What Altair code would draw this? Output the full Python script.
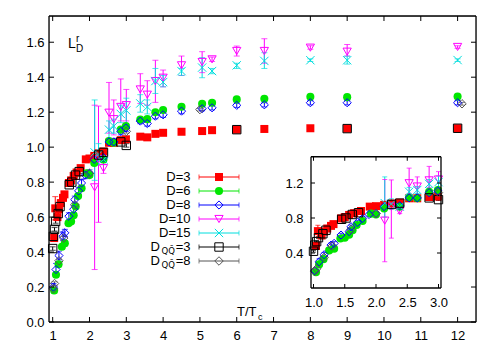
import altair as alt
import pandas as pd

FONT = "Liberation Sans"

# ---------------- series definitions ----------------
names = ["D=3", "D=6", "D=8", "D=10", "D=15", "Dqq3", "Dqq8"]
colors = ["#ff0000", "#00e600", "#0000ff", "#ff00ff", "#00dede", "#000000", "#555555"]
shapes = ["square", "circle", "diamond", "triangle-down",
          "M-1,-1L1,1M-1,1L1,-1", "square", "diamond"]
sizes = [64, 72, 56, 64, 42, 60, 30]
filled_series = ["D=3", "D=6"]

# D=3
t_d3 = [1.04, 1.07, 1.13, 1.17, 1.22, 1.28, 1.32, 1.44, 1.50, 1.57, 1.65, 1.76, 1.90,
        2.00, 2.13, 2.25, 2.38, 2.53, 2.66, 2.85, 2.99, 3.38, 3.57, 3.79, 4.00, 4.50,
        5.06, 5.33, 6.00, 6.75, 8.00, 9.00, 12.0]
l_d3 = [0.48, 0.65, 0.60, 0.645, 0.68, 0.71, 0.73, 0.795, 0.81, 0.835, 0.855, 0.88, 0.93,
        0.935, 0.95, 0.965, 0.975, 1.025, 1.025, 1.04, 1.045, 1.06, 1.056, 1.076, 1.082, 1.088,
        1.092, 1.097, 1.100, 1.104, 1.108, 1.106, 1.108]
e_d3 = [0.012, 0.067, 0.015, 0.012, 0.012, 0.01, 0.01, 0.01, 0.01, 0.01, 0.01, 0.01, 0.01,
        0.01, 0.01, 0.01, 0.01, 0.01, 0.01, 0.01, 0.01, 0.006, 0.006, 0.006, 0.006, 0.005,
        0.005, 0.005, 0.005, 0.005, 0.004, 0.004, 0.004]

# D=6
t_d6 = [1.04, 1.09, 1.16, 1.25, 1.33, 1.43, 1.50, 1.57, 1.625, 1.69, 1.785, 1.92, 2.00,
        2.13, 2.38, 2.53, 2.66, 2.85, 2.99, 3.38, 3.57, 3.79, 4.00, 4.50, 5.06, 5.33,
        6.00, 6.75, 8.00, 9.00, 12.0]
l_d6 = [0.18, 0.27, 0.33, 0.43, 0.45, 0.565, 0.575, 0.61, 0.66, 0.72, 0.765, 0.85, 0.84,
        0.91, 0.93, 1.035, 1.025, 1.10, 1.12, 1.158, 1.16, 1.20, 1.212, 1.231, 1.248, 1.254,
        1.273, 1.277, 1.288, 1.286, 1.29]
e_d6 = [0.015, 0.015, 0.015, 0.015, 0.015, 0.012, 0.012, 0.012, 0.012, 0.012, 0.012, 0.012,
        0.012, 0.012, 0.012, 0.01, 0.01, 0.01, 0.01, 0.008, 0.008, 0.008, 0.008, 0.008,
        0.008, 0.008, 0.006, 0.006, 0.006, 0.006, 0.006]

# D=8
t_d8 = [1.02, 1.09, 1.17, 1.28, 1.33, 1.44, 1.57, 1.60, 1.705, 1.785, 1.89, 2.00, 2.13,
        2.38, 2.53, 2.66, 2.85, 2.99, 3.38, 3.57, 3.79, 4.00, 4.50, 5.06, 5.33, 6.00,
        6.75, 8.00, 9.00, 12.0]
l_d8 = [0.20, 0.30, 0.38, 0.49, 0.51, 0.605, 0.645, 0.70, 0.75, 0.795, 0.84, 0.85, 0.93,
        0.94, 1.03, 1.03, 1.09, 1.11, 1.149, 1.135, 1.177, 1.185, 1.206, 1.22, 1.225, 1.239,
        1.242, 1.254, 1.254, 1.254]
e_d8 = [0.02, 0.035, 0.025, 0.025, 0.02, 0.02, 0.02, 0.02, 0.02, 0.02, 0.02, 0.02, 0.02,
        0.02, 0.02, 0.02, 0.02, 0.02, 0.015, 0.015, 0.015, 0.015, 0.015, 0.012, 0.012, 0.012,
        0.012, 0.012, 0.012, 0.012]

# D=10
t_d10 = [2.14, 2.245, 2.38, 2.53, 2.66, 2.85, 3.00, 3.38, 3.57, 3.79, 4.00, 4.50, 5.06,
         5.33, 6.00, 6.75, 8.00, 9.00, 12.0]
l_d10 = [0.77, 0.93, 0.88, 1.197, 1.16, 1.23, 1.24, 1.33, 1.30, 1.378, 1.397, 1.468, 1.487,
         1.502, 1.55, 1.55, 1.569, 1.546, 1.573]
lo_d10 = [0.30, 0.57, 0.85, 1.08, 1.07, 1.15, 1.15, 1.25, 1.24, 1.256, 1.345, 1.41, 1.426,
          1.49, 1.521, 1.48, 1.56, 1.521, 1.565]
hi_d10 = [1.24, 1.235, 0.91, 1.37, 1.27, 1.39, 1.33, 1.42, 1.38, 1.497, 1.441, 1.521, 1.546,
          1.515, 1.578, 1.62, 1.58, 1.587, 1.58]

# D=15
t_d15 = [2.14, 2.245, 2.38, 2.53, 2.66, 2.85, 3.00, 3.38, 3.57, 3.79, 4.00, 4.50, 5.06,
         5.33, 6.00, 6.75, 8.00, 9.00, 12.0]
l_d15 = [0.97, 0.96, 0.93, 1.10, 1.12, 1.19, 1.21, 1.25, 1.23, 1.378, 1.372, 1.435, 1.455,
         1.435, 1.468, 1.493, 1.497, 1.497, 1.498]
lo_d15 = [0.81, 0.90, 0.90, 1.05, 1.08, 1.14, 1.12, 1.20, 1.19, 1.307, 1.345, 1.41, 1.397,
          1.42, 1.45, 1.45, 1.49, 1.475, 1.49]
hi_d15 = [1.27, 1.02, 0.96, 1.15, 1.16, 1.24, 1.28, 1.30, 1.27, 1.45, 1.41, 1.45, 1.512,
          1.45, 1.48, 1.54, 1.505, 1.52, 1.505]

# D_QQbar=3
t_q3 = [1.00, 1.02, 1.05, 1.08, 1.15, 1.20, 1.45, 1.52, 1.62, 1.72, 2.25, 2.38, 2.85,
        3.00, 6.00, 9.00, 12.0]
l_q3 = [0.42, 0.49, 0.53, 0.575, 0.62, 0.66, 0.785, 0.80, 0.84, 0.86, 0.955, 0.97, 1.03,
        1.01, 1.10, 1.106, 1.108]
e_q3 = [0.01, 0.01, 0.01, 0.01, 0.01, 0.01, 0.01, 0.01, 0.01, 0.01, 0.01, 0.01, 0.01,
        0.01, 0.005, 0.005, 0.005]

# D_QQbar=8
t_q8 = [1.02, 1.05, 1.17, 1.30, 1.60, 2.00, 3.00, 5.00, 12.12]
l_q8 = [0.19, 0.22, 0.35, 0.48, 0.67, 0.85, 1.09, 1.215, 1.248]
e_q8 = [0.01, 0.01, 0.01, 0.01, 0.01, 0.01, 0.01, 0.008, 0.008]

# tick labels
main_xticks = [1, 2, 3, 4, 5, 6, 7, 8, 9, 10, 11, 12]
main_yticks = [0.0, 0.2, 0.4, 0.6, 0.8, 1.0, 1.2, 1.4, 1.6]
inset_xticks = [1.0, 1.5, 2.0, 2.5, 3.0]
inset_yticks = [0.4, 0.8, 1.2]

# ---------------- build table ----------------
rows = []
def add_sym(name, ts, ls, es):
    for t, l, e in zip(ts, ls, es):
        rows.append(dict(series=name, T=t, L=l, lo=l - e, hi=l + e))
def add_asym(name, ts, ls, los, his):
    for t, l, a, b in zip(ts, ls, los, his):
        rows.append(dict(series=name, T=t, L=l, lo=a, hi=b))

add_sym("D=3", t_d3, l_d3, e_d3)
add_sym("D=6", t_d6, l_d6, e_d6)
add_sym("D=8", t_d8, l_d8, e_d8)
add_asym("D=10", t_d10, l_d10, lo_d10, hi_d10)
add_asym("D=15", t_d15, l_d15, lo_d15, hi_d15)
add_sym("Dqq3", t_q3, l_q3, e_q3)
add_sym("Dqq8", t_q8, l_q8, e_q8)
df = pd.DataFrame(rows)

W, H = 427, 306
color_enc = alt.Color("series:N", scale=alt.Scale(domain=names, range=colors), legend=None)
shape_enc = alt.Shape("series:N", scale=alt.Scale(domain=names, range=shapes), legend=None)
size_enc = alt.Size("series:N", scale=alt.Scale(domain=names, range=sizes), legend=None)
is_filled = alt.FieldOneOfPredicate(field="series", oneOf=filled_series)
not_filled = {"not": is_filled}

# inward tick glyphs: a short stroke starting at the frame, pointing into the plot
side_paths = {"bottom": "M0,0L0,-1", "top": "M0,0L0,1", "left": "M0,0L1,0", "right": "M0,0L-1,0"}


def label_axis(orient, values, fmt, offset, pad):
    return alt.Axis(orient=orient, values=values, format=fmt, offset=offset, ticks=False,
                    tickSize=0, labelPadding=pad, domain=False, grid=False, title=None,
                    labelColor="black", labelFontSize=13, labelFont=FONT)


def panel(data, xs, ys, xaxis, yaxis, xdom, ydom, xt, yt, cap, tick_len, fill):
    # every layer of a panel carries the same axis spec, so the shared axis merges cleanly
    def X(f):
        return alt.X(f, scale=xs, axis=xaxis)

    def Y(f):
        return alt.Y(f, scale=ys, axis=yaxis)

    layers = []
    if fill:
        bg = pd.DataFrame({"x0": [xdom[0]], "x1": [xdom[1]], "y0": [ydom[0]], "y1": [ydom[1]]})
        layers.append(alt.Chart(bg).mark_rect(fill="white", strokeWidth=0).encode(
            x=X("x0:Q"), x2="x1:Q", y=Y("y0:Q"), y2="y1:Q"))
    layers.append(data.mark_rule(strokeWidth=1).encode(
        x=X("T:Q"), y=Y("lo:Q"), y2="hi:Q", color=color_enc))
    layers.append(data.mark_tick(orient="horizontal", size=cap, thickness=1).encode(
        x=X("T:Q"), y=Y("lo:Q"), color=color_enc))
    layers.append(data.mark_tick(orient="horizontal", size=cap, thickness=1).encode(
        x=X("T:Q"), y=Y("hi:Q"), color=color_enc))
    layers.append(data.transform_filter(is_filled).mark_point(filled=True, opacity=1).encode(
        x=X("T:Q"), y=Y("L:Q"), color=color_enc, shape=shape_enc, size=size_enc))
    layers.append(data.transform_filter(not_filled).mark_point(
        filled=False, opacity=1, strokeWidth=1).encode(
        x=X("T:Q"), y=Y("L:Q"), color=color_enc, shape=shape_enc, size=size_enc))
    # frame: four edges of the axis domains
    edges = pd.DataFrame({
        "xa": [xdom[0], xdom[0], xdom[0], xdom[1]],
        "xb": [xdom[1], xdom[1], xdom[0], xdom[1]],
        "ya": [ydom[0], ydom[1], ydom[0], ydom[0]],
        "yb": [ydom[0], ydom[1], ydom[1], ydom[1]],
    })
    layers.append(alt.Chart(edges).mark_rule(color="black", strokeWidth=1.3).encode(
        x=X("xa:Q"), x2="xb:Q", y=Y("ya:Q"), y2="yb:Q"))
    # inward ticks at the tick-label positions, on all four sides
    tick_tables = {
        "bottom": pd.DataFrame({"tx": xt, "ty": [ydom[0]] * len(xt)}),
        "top": pd.DataFrame({"tx": xt, "ty": [ydom[1]] * len(xt)}),
        "left": pd.DataFrame({"tx": [xdom[0]] * len(yt), "ty": yt}),
        "right": pd.DataFrame({"tx": [xdom[1]] * len(yt), "ty": yt}),
    }
    for side, tdf in tick_tables.items():
        layers.append(alt.Chart(tdf).mark_point(
            shape=side_paths[side], filled=False, color="black", strokeWidth=1, opacity=1,
            size=(2 * tick_len) ** 2).encode(x=X("tx:Q"), y=Y("ty:Q")))
    return alt.layer(*layers)


# ---------------- main panel ----------------
MX = [0.9, 12.5]
MY = [0.0, 1.75]
xs_m = alt.Scale(domain=MX, nice=False, zero=False)
ys_m = alt.Scale(domain=MY, nice=False, zero=False)
main = panel(alt.Chart(df), xs_m, ys_m,
             label_axis("bottom", main_xticks, "d", 0, 7),
             label_axis("left", main_yticks, ".1f", 0, 5),
             MX, MY, main_xticks, main_yticks, 6, 5, False)

# ---------------- inset panel ----------------
IX = [0.96, 3.04]
IY = [0.0, 1.5]
IXR = [262, 392]
IYR = [272, 140.75]
xs_i = alt.Scale(domain=IX, range=IXR, nice=False, zero=False)
ys_i = alt.Scale(domain=IY, range=IYR, nice=False, zero=False)
inset_data = alt.Chart(df).transform_filter(alt.datum.T <= 3.02)
inset = panel(inset_data, xs_i, ys_i,
              label_axis("bottom", inset_xticks, ".1f", -(H - IYR[0]), 8),
              label_axis("left", inset_yticks, ".1f", -IXR[0], 8),
              IX, IY, inset_xticks, inset_yticks, 5, 4, True)

# ---------------- key (legend) ----------------
key_df = pd.DataFrame({"series": names, "row": list(range(len(names)))})
ky = alt.Y("row:Q", scale=alt.Scale(domain=[0, 6], range=[161, 245]), axis=None)
key_base = alt.Chart(key_df)
key_line = key_base.mark_rule(strokeWidth=1).encode(
    x=alt.value(150), x2=alt.value(190), y=ky, color=color_enc)
key_cap1 = key_base.mark_tick(orient="vertical", size=5, thickness=1).encode(
    x=alt.value(150), y=ky, color=color_enc)
key_cap2 = key_base.mark_tick(orient="vertical", size=5, thickness=1).encode(
    x=alt.value(190), y=ky, color=color_enc)
key_pf = key_base.transform_filter(is_filled).mark_point(filled=True, opacity=1).encode(
    x=alt.value(170), y=ky, color=color_enc, shape=shape_enc, size=size_enc)
key_po = key_base.transform_filter(not_filled).mark_point(filled=False, opacity=1, strokeWidth=1).encode(
    x=alt.value(170), y=ky, color=color_enc, shape=shape_enc, size=size_enc)

plain_labels = ["D=3", "D=6", "D=8", "D=10", "D=15", "=3", "=8"]
lab_df = pd.DataFrame({"row": list(range(7)), "txt": plain_labels})
key_txt = alt.Chart(lab_df).mark_text(align="right", baseline="middle", font=FONT,
                                      fontSize=13, color="black").encode(
    x=alt.value(141.5), y=ky, text="txt:N")
qq_df = pd.DataFrame({"row": [5, 6], "d": ["D", "D"], "sub": ["QQ\u0304", "QQ\u0304"]})
key_sub = alt.Chart(qq_df).mark_text(align="right", baseline="middle", font="DejaVu Sans",
                                     fontSize=8.5, dy=4, color="black").encode(
    x=alt.value(126), y=ky, text="sub:N")
key_d = alt.Chart(qq_df).mark_text(align="right", baseline="middle", font=FONT,
                                   fontSize=13, color="black").encode(
    x=alt.value(111), y=ky, text="d:N")

# ---------------- axis-style annotations ----------------
one = pd.DataFrame({"a": [0]})
def label(txt, x, y, size, align="left"):
    return alt.Chart(one).mark_text(text=txt, align=align, baseline="alphabetic", font=FONT,
                                    fontSize=size, color="black").encode(
        x=alt.value(x), y=alt.value(y))

annots = [
    label("L", 19, 32, 14),
    label("r", 27, 26, 10),
    label("D", 27, 36, 10),
    label("T/T", 188, 300, 13),
    label("c", 209, 304, 9),
]

key = alt.layer(key_line, key_cap1, key_cap2, key_pf, key_po, key_txt, key_sub, key_d, *annots)

chart = alt.layer(main, inset, key).resolve_scale(
    x="independent", y="independent"
).properties(
    width=W, height=H,
    autosize=alt.AutoSizeParams(type="none"),
    padding={"left": 41, "top": 8, "right": 16, "bottom": 20},
).configure_view(stroke=None).configure(font=FONT)

chart.save("out.html", embed_options={"renderer": "svg", "actions": False})
